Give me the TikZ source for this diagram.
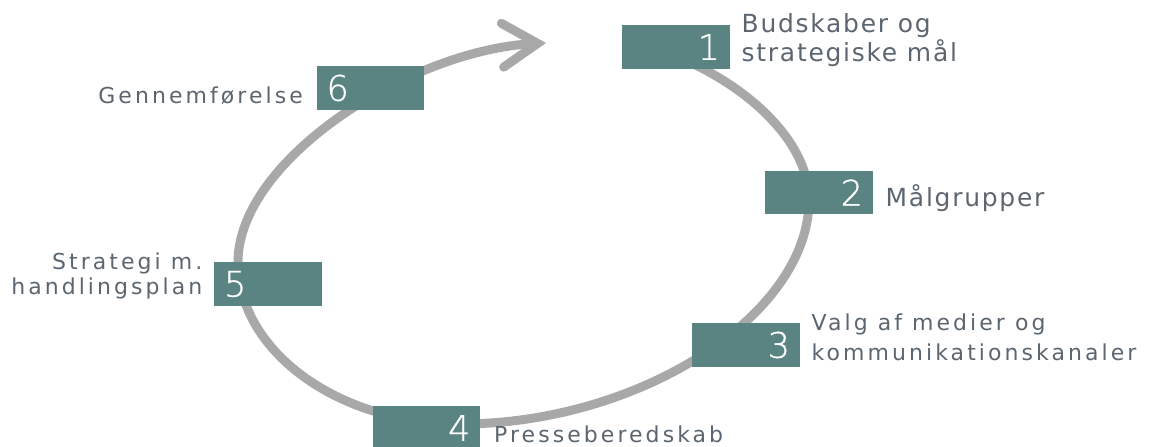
\documentclass[tikz,border=0pt]{standalone}
\usepackage{fontspec}
\setmainfont{DejaVu Sans}
\newfontfamily\numfont{DejaVuSans-ExtraLight.ttf}[FakeBold=0.8]
\newfontfamily\tagfont{DejaVu Sans}[LetterSpace=14]
\newfontfamily\bigtagfont{DejaVu Sans}[LetterSpace=7]
\usetikzlibrary{positioning}
\usetikzlibrary{arrows.meta}
\definecolor{boxteal}{HTML}{5A8482}
\definecolor{taggrey}{HTML}{5B6670}
\definecolor{ringgrey}{HTML}{A8A8A8}
\tikzset{x=0.02cm, y=0.02cm, % one unit is one pixel of the original
stepbox/.style={ % Sets the properties for each numbered box
fill=boxteal,
minimum height=0.88cm,
inner xsep=0.2cm, inner ysep=0pt,
text width=1.76cm,
text=white,
font=\numfont\fontsize{20pt}{20pt}\selectfont},
tag/.style={ % Text next to a box
text=taggrey,
inner sep=0pt,
font=\tagfont\fontsize{12.5pt}{16pt}\selectfont},
bigtag/.style={ % The two larger texts at the top right
tag,
font=\bigtagfont\fontsize{14.2pt}{15.3pt}\selectfont},
ring/.style={ % The big cycle arrow
draw=ringgrey,
line width=5.1pt,
line cap=round,
-{Straight Barb[length=20pt, width=25pt, line cap=round]}}}

\begin{document}
\begin{tikzpicture}
                \useasboundingbox (0,0) rectangle (1151,-446);
                \draw[ring] (680,-58) .. controls (745,-85) and (809,-140) .. (809,-200)
                .. controls (809,-315) and (640,-424) .. (460,-424)
                .. controls (338,-424) and (238,-351) .. (238,-262)
                .. controls (238,-160) and (410,-50) .. (546,-43);

                \node[stepbox, align=right] (1) at (676,-47) {1};
                \node[stepbox, align=right] (2) at (819,-192.5) {2};
                \node[stepbox, align=right] (3) at (746,-345) {3};
                \node[stepbox, align=right] (4) at (426.5,-428) {4};
                \node[stepbox, align=left] (5) at (268,-284) {5};
                \node[stepbox, align=left] (6) at (370.5,-88) {6};

                \node[bigtag, right=0.22cm of 1, yshift=0.14cm, align=left] (l1) {Budskaber og\\strategiske mål};
                \node[bigtag, right=0.24cm of 2.south east, anchor=base west, yshift=0.16cm] (l2) {Målgrupper};
                \node[tag, right=0.22cm of 3, yshift=0.16cm, align=left, font=\tagfont\fontsize{12.5pt}{17pt}\selectfont] (l3) {Valg af medier og\\kommunikationskanaler};
                \node[tag, right=0.26cm of 4.south east, anchor=base west, yshift=0.16cm] (l4) {Presseberedskab};
                \node[tag, left=0.22cm of 5, yshift=0.16cm, align=right, font=\tagfont\fontsize{12.5pt}{14.5pt}\selectfont] (l5) {Strategi m.\\handlingsplan};
                \node[tag, left=0.26cm of 6.south west, anchor=base east, yshift=0.14cm] (l6) {Gennemførelse};
            \end{tikzpicture}
\end{document}
